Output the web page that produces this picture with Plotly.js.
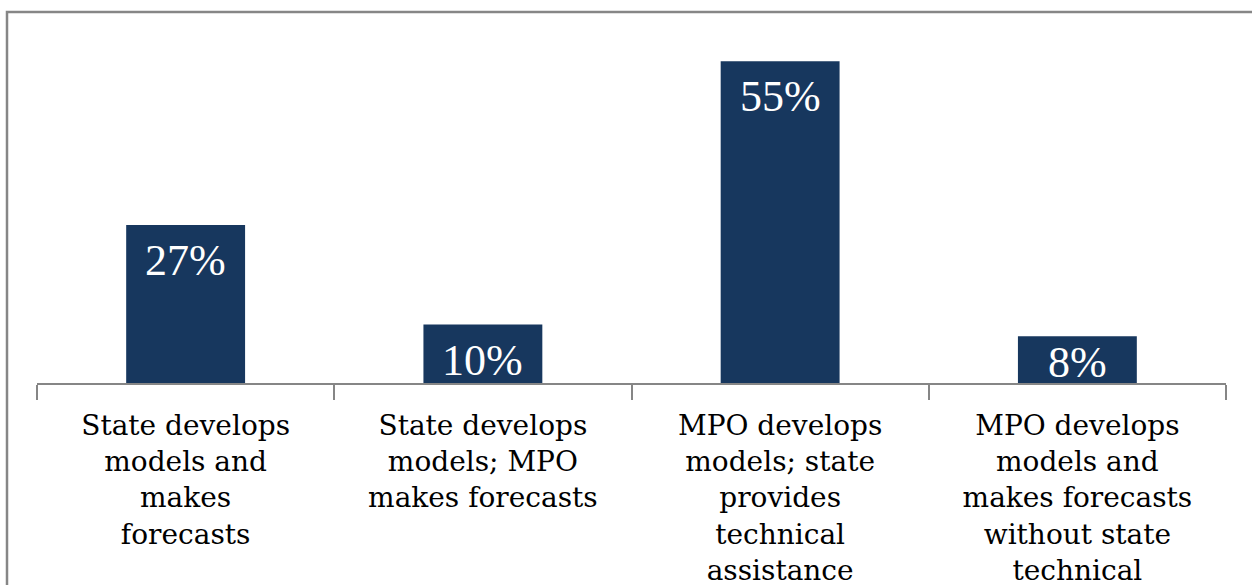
<!DOCTYPE html>
<html>
<head>
<meta charset="utf-8">
<script src="https://cdn.plot.ly/plotly-3.0.1.min.js"></script>
<style>
  html, body { margin: 0; padding: 0; background: #ffffff; }
  #chart { width: 1252px; height: 585px; }
</style>
</head>
<body>
<div id="chart"></div>
<script>
const categories = [
  "State develops<br>models and<br>makes<br>forecasts",
  "State develops<br>models; MPO<br>makes forecasts",
  "MPO develops<br>models; state<br>provides<br>technical<br>assistance",
  "MPO develops<br>models and<br>makes forecasts<br>without state<br>technical<br>assistance"
];
const shares = [27, 10, 55, 8];
const shareLabels = ["27%", "10%", "55%", "8%"];

const barColor = "#17375E";
const greyLine = "#868686";
const serif = "DejaVu Serif, Liberation Serif, serif";
const labelSerif = "Liberation Serif, DejaVu Serif, serif";

const H = 585, M = { l: 37, r: 26, t: 32, b: 202 };
const yMax = 60;
const pxPerUnit = (H - M.t - M.b) / yMax;

const trace = {
  type: "bar",
  x: categories,
  y: shares,
  marker: { color: barColor, line: { width: 0 } },
  hoverinfo: "skip"
};

// labels sit near the top of each bar, but stay inside short bars
const valueAnnotations = categories.map((c, i) => ({
  x: c,
  y: shares[i],
  xref: "x",
  yref: "y",
  text: shareLabels[i],
  showarrow: false,
  yanchor: "top",
  xanchor: "center",
  yshift: Math.min(0, Math.max(-9, -(shares[i] * pxPerUnit - 47))),
  font: { family: labelSerif, size: 44, color: "#ffffff" }
}));

const layout = {
  width: 1252,
  height: H,
  margin: M,
  paper_bgcolor: "#ffffff",
  plot_bgcolor: "#ffffff",
  showlegend: false,
  bargap: 0.6,
  xaxis: {
    type: "category",
    showline: true,
    linecolor: greyLine,
    linewidth: 2,
    ticks: "outside",
    tickson: "boundaries",
    ticklen: 15,
    tickwidth: 2,
    tickcolor: greyLine,
    showgrid: false,
    zeroline: false,
    tickangle: 0,
    tickfont: { family: serif, size: 28, color: "#000000" },
    ticklabelstandoff: 16
  },
  yaxis: {
    visible: false,
    range: [0, yMax],
    showgrid: false,
    zeroline: false
  },
  annotations: valueAnnotations,
  shapes: [{
    type: "rect",
    xref: "paper", yref: "paper",
    x0: -30 / 1189, x1: 1.1,
    y0: -0.9, y1: 1 + 20 / 351,
    line: { color: greyLine, width: 2.5 },
    fillcolor: "rgba(0,0,0,0)",
    layer: "below"
  }]
};

Plotly.newPlot("chart", [trace], layout, { displayModeBar: false, staticPlot: true });
</script>
</body>
</html>
